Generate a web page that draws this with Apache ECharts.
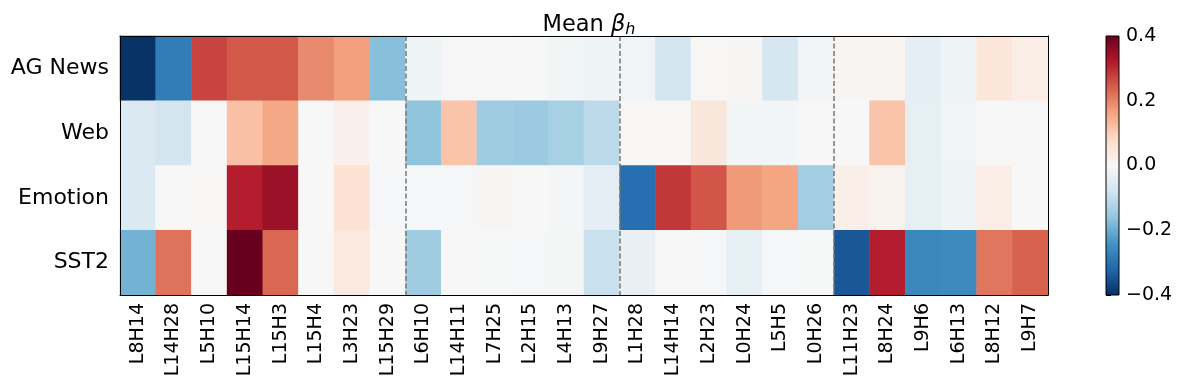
<!DOCTYPE html>
<html>
<head>
<meta charset="utf-8">
<script src="https://cdn.jsdelivr.net/npm/echarts@6/dist/echarts.min.js"></script>
<style>
  html, body { margin: 0; padding: 0; background: #fff; }
  #chart { width: 1185px; height: 390px; }
</style>
</head>
<body>
<div id="chart"></div>
<script>
const heads = ["L8H14", "L14H28", "L5H10", "L15H14", "L15H3", "L15H4", "L3H23", "L15H29",
  "L6H10", "L14H11", "L7H25", "L2H15", "L4H13", "L9H27",
  "L1H28", "L14H14", "L2H23", "L0H24", "L5H5", "L0H26",
  "L11H23", "L8H24", "L9H6", "L6H13", "L8H12", "L9H7"];
const datasets = ["AG News", "Web", "Emotion", "SST2"];

const agNews = [-0.395, -0.28, 0.271, 0.248, 0.248, 0.191, 0.167, -0.17, -0.02, -0.003, 0.002, 0, -0.01, -0.02,
  -0.015, -0.075, 0.004, 0.005, -0.07, -0.015, 0.008, 0.008, -0.04, -0.018, 0.05, 0.03];
const web = [-0.06, -0.075, 0, 0.12, 0.155, 0, 0.02, 0, -0.162, 0.114, -0.142, -0.147, -0.133, -0.107,
  0.004, 0.004, 0.045, -0.01, -0.01, 0.002, 0, 0.114, -0.035, -0.015, 0, 0.002];
const emotion = [-0.06, 0, 0.003, 0.315, 0.345, 0, 0.06, -0.005, -0.005, -0.005, 0.006, 0, -0.007, -0.04,
  -0.304, 0.284, 0.252, 0.173, 0.16, -0.14, 0.025, 0.015, -0.035, -0.018, 0.03, 0];
const sst2 = [-0.19, 0.219, 0.002, 0.4, 0.232, 0, 0.04, 0, -0.142, 0, -0.002, -0.005, -0.006, -0.09,
  -0.03, 0.002, -0.005, -0.035, -0.005, -0.002, -0.342, 0.315, -0.26, -0.256, 0.214, 0.238];

// last column of each group of heads (dashed separators after them)
const groupEnds = [7, 13, 19];
const colorTicks = [-0.4, -0.2, 0, 0.2, 0.4];

// matplotlib RdBu_r
const rdbu = ["#053061", "#2166ac", "#4393c3", "#92c5de", "#d1e5f0", "#f7f7f7",
  "#fddbc7", "#f4a582", "#d6604d", "#b2182b", "#67001f"];

const rows = [agNews, web, emotion, sst2];
const cells = [];
rows.forEach((r, y) => r.forEach((v, x) => cells.push([x, y, v])));

const font = "DejaVu Sans";
const chart = echarts.init(document.getElementById("chart"));

const axisBlack = { lineStyle: { color: "#000", width: 1 } };
const minus = v => String(v.toFixed(1)).replace("-", "\u2212");

chart.setOption({
  animation: false,
  backgroundColor: "#fff",
  textStyle: { fontFamily: font },
  title: {
    text: "{a|Mean }{b|β}{c|h}",
    left: 584,
    textAlign: "center",
    top: 7,
    textStyle: {
      fontWeight: "normal",
      rich: {
        a: { fontFamily: font, fontSize: 22.5, fontWeight: "normal", color: "#000" },
        b: { fontFamily: font, fontSize: 22.5, fontWeight: "normal", fontStyle: "italic", color: "#000" },
        c: { fontFamily: font, fontSize: 16, fontWeight: "normal", fontStyle: "italic", color: "#000", padding: [10, 0, 0, 0] }
      }
    }
  },
  grid: [
    { left: 120, right: 137, top: 36, bottom: 95 },
    { left: 1106, width: 13, top: 36, bottom: 95 }
  ],
  xAxis: [
    {
      type: "category", gridIndex: 0, data: heads, z: 5,
      axisLine: axisBlack,
      axisTick: { alignWithLabel: true, length: 5, lineStyle: { color: "#000" } },
      axisLabel: { rotate: 90, fontSize: 19, color: "#000", fontFamily: font, margin: 8, interval: 0 },
      splitLine: { show: false }
    },
    {
      type: "category", gridIndex: 0, data: heads, position: "top", z: 5,
      axisLine: axisBlack, axisTick: { show: false }, axisLabel: { show: false }
    },
    { type: "value", gridIndex: 1, min: 0, max: 1, show: false }
  ],
  yAxis: [
    {
      type: "category", gridIndex: 0, data: datasets, inverse: true, z: 5,
      axisLine: axisBlack,
      axisTick: { alignWithLabel: true, length: 5, lineStyle: { color: "#000" } },
      axisLabel: { fontSize: 22, color: "#000", fontFamily: font, margin: 11, padding: [8, 0, 0, 0] },
      splitLine: { show: false }
    },
    {
      type: "category", gridIndex: 0, data: datasets, inverse: true, position: "right", z: 5,
      axisLine: axisBlack, axisTick: { show: false }, axisLabel: { show: false }
    },
    {
      type: "value", gridIndex: 1, min: -0.4, max: 0.4, interval: 0.2, position: "right",
      axisLine: { show: false },
      axisTick: { show: true, length: 5, lineStyle: { color: "#000" } },
      axisLabel: { fontSize: 19, color: "#000", fontFamily: font, margin: 7, formatter: minus },
      splitLine: { show: false }
    }
  ],
  visualMap: {
    show: false, type: "continuous", seriesIndex: 0,
    min: -0.4, max: 0.4, inRange: { color: rdbu }
  },
  series: [
    {
      type: "heatmap", xAxisIndex: 0, yAxisIndex: 0, data: cells,
      emphasis: { disabled: true }, itemStyle: { borderWidth: 0 }
    },
    {
      type: "custom", xAxisIndex: 0, yAxisIndex: 0, z: 4, silent: true,
      data: groupEnds.map(i => [i, 0]),
      renderItem: (params, api) => {
        const p = api.coord([api.value(0), 0]);
        const w = api.size([1, 0])[0];
        const cs = params.coordSys;
        const x = Math.round(p[0] + w / 2);
        return {
          type: "line",
          shape: { x1: x, y1: cs.y, x2: x, y2: cs.y + cs.height },
          style: { stroke: "#777", lineWidth: 1.5, lineDash: [5, 2.5] }
        };
      }
    },
    {
      type: "custom", xAxisIndex: 2, yAxisIndex: 2, silent: true,
      data: [[0, colorTicks[0], colorTicks[colorTicks.length - 1]]],
      renderItem: (params, api) => {
        const a = api.coord([0, api.value(2)]);
        const b = api.coord([1, api.value(1)]);
        const stops = rdbu.slice().reverse().map((c, i) => ({ offset: i / (rdbu.length - 1), color: c }));
        return {
          type: "rect",
          shape: { x: a[0], y: a[1], width: b[0] - a[0], height: b[1] - a[1] },
          style: { fill: new echarts.graphic.LinearGradient(0, 0, 0, 1, stops), stroke: "#000", lineWidth: 1 }
        };
      }
    }
  ]
});
</script>
</body>
</html>
